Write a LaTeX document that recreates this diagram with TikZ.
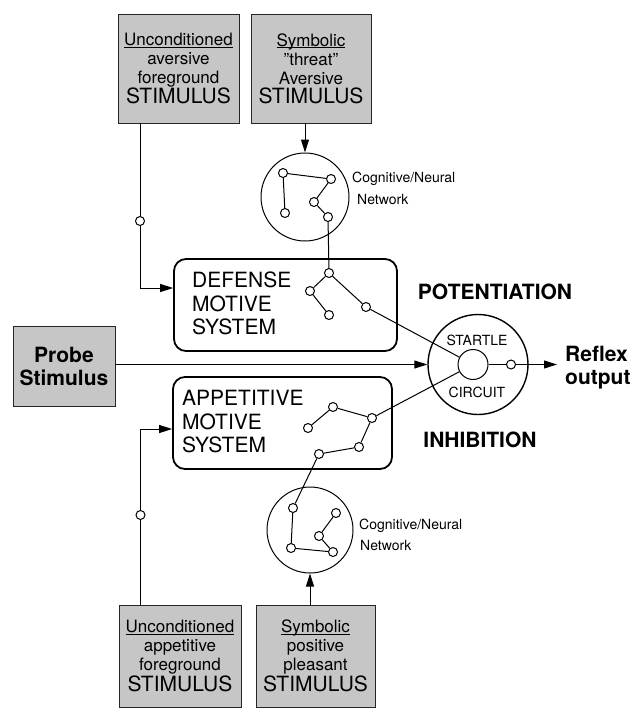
\documentclass[tikz,border=0pt]{standalone}
\usepackage{fontspec}
\setmainfont{TeX Gyre Heros}
\usetikzlibrary{arrows.meta, positioning}
\definecolor{stimgray}{HTML}{C6C6C6}
\newcommand{\stimhead}[1]{\setbox0\hbox{#1}\rlap{\rule[-2.2pt]{\wd0}{0.9pt}}\box0}
\tikzset{
    stimbox/.style={rectangle, draw=black!85, line width=0.9pt, fill=stimgray, align=center, inner sep=0pt, font=\fontsize{17}{19}\selectfont},
    motivebox/.style={rectangle, draw=black, line width=1.8pt, rounded corners=12pt},
    motivetext/.style={anchor=west, align=left, inner sep=0pt, font=\fontsize{21}{23.5}\selectfont},
    netcircle/.style={circle, draw=black, line width=1pt, inner sep=0pt},
    neuron/.style={circle, draw=black, line width=1pt, fill=white, minimum size=9pt, inner sep=0pt},
    netlabel/.style={anchor=west, inner sep=0pt, font=\fontsize{14}{16}\selectfont},
    circuitlabel/.style={inner sep=0pt, font=\fontsize{14}{16}\selectfont},
    effect/.style={inner sep=0pt, font=\bfseries\fontsize{21}{23}\selectfont},
    wire/.style={line width=1pt, draw=black},
    arrow/.style={wire, -{Triangle[length=13pt, width=8pt]}}
}
\begin{document}
\begin{tikzpicture}[x=1pt, y=-1pt]
    \useasboundingbox (0,0) rectangle (636,710);

    % stimulus boxes
    \node[stimbox, minimum width=121pt, minimum height=109pt] (aversive) at (178.5,68.5)
        {\stimhead{Unconditioned}\\aversive\\foreground\\{\fontsize{21}{19}\selectfont STIMULUS}};
    \node[stimbox, minimum width=120pt, minimum height=109pt] (threat) at (311,68.5)
        {\stimhead{Symbolic}\\"threat"\\Aversive\\{\fontsize{21}{19}\selectfont STIMULUS}};
    \node[stimbox, minimum width=122pt, minimum height=102pt] (appetstim) at (180,656)
        {\stimhead{Unconditioned}\\appetitive\\foreground\\{\fontsize{21}{19}\selectfont STIMULUS}};
    \node[stimbox, minimum width=119pt, minimum height=102pt] (pleasant) at (315.5,656)
        {\stimhead{Symbolic}\\positive\\pleasant\\{\fontsize{21}{19}\selectfont STIMULUS}};
    \node[stimbox, minimum width=102pt, minimum height=80pt, font=\bfseries\fontsize{21}{23}\selectfont] (probe) at (64,366) {Probe\\Stimulus};

    % motive systems
    \node[motivebox, minimum width=223pt, minimum height=92pt] (defense) at (285.5,305) {};
    \node[motivetext] (defensetext) at (192,303.5) {DEFENSE\\MOTIVE\\SYSTEM};
    \node[motivebox, minimum width=219pt, minimum height=92pt] (appetitive) at (282.5,423) {};
    \node[motivetext] (appetitivetext) at (182,422) {APPETITIVE\\MOTIVE\\SYSTEM};

    % startle circuit
    \node[netcircle, line width=1.4pt, minimum size=100pt] (startle) at (478,364.5) {};
    \node[neuron, minimum size=30pt] (core) at (473,364.5) {};
    \node[neuron] (outcell) at (511,364.5) {};
    \node[circuitlabel] (startletext) at (477,340) {STARTLE};
    \node[circuitlabel] (circuittext) at (477,392) {CIRCUIT};
    \node[effect, anchor=west, align=left] (reflex) at (565,368) {Reflex\\output};
    \node[effect] (potentiation) at (495,292) {POTENTIATION};
    \node[effect] (inhibition) at (480,440) {INHIBITION};

    % cognitive networks
    \node[netcircle, minimum size=88pt] (threatnet) at (305,197) {};
    \node[netlabel] (threatlabel) at (352,179) {Cognitive/Neural};
    \node[netlabel] (threatlabelb) at (357,199) {Network};
    \node[netcircle, minimum size=86pt] (pleasantnet) at (310,530) {};
    \node[netlabel] (pleasantlabel) at (359,526) {Cognitive/Neural};
    \node[netlabel] (pleasantlabelb) at (360,545) {Network};

    \foreach \n/\x/\y in {tn1/283/173, tn2/331/179, tn3/314/202, tn4/285/213, tn5/328/217,
                          dn1/329/273, dn2/310/291, dn3/329/315, dn4/366/307,
                          mn1/308/428, mn2/333/407, mn3/372/418, mn4/359/447, mn5/319/454,
                          pn1/293/508, pn2/336/513, pn3/319/536, pn4/291/548, pn5/333/552}
        \node[neuron] (\n) at (\x,\y) {};
    \foreach \s/\t in {tn1/tn2, tn1/tn4, tn2/tn3, tn3/tn5, tn5/dn1, dn1/dn2, dn2/dn3, dn1/dn4, dn4/core,
                       mn1/mn2, mn2/mn3, mn3/mn4, mn4/mn5, mn5/pn1, mn3/core,
                       pn1/pn4, pn4/pn5, pn5/pn3, pn3/pn2}
        \draw[wire] (\s) -- (\t);

    % connectors
    \node[neuron] (avcell) at (140,221) {};
    \draw[wire] (aversive.south -| avcell) -- (avcell);
    \draw[arrow] (avcell) |- ([yshift=17pt]defense.west);
    \node[neuron] (apcell) at (140.5,515) {};
    \draw[wire] (appetstim.north -| apcell) -- (apcell);
    \draw[arrow] (apcell) |- ([yshift=-6pt]appetitive.west);
    \draw[arrow] (threat.south -| threatnet.north) -- (threatnet.north);
    \draw[arrow] (pleasant.north -| pleasantnet.south) -- (pleasantnet.south);
    \draw[arrow] (probe.east |- startle) -- (startle.west);
    \draw[wire] (core) -- (outcell);
    \draw[arrow, shorten >=8pt] (outcell) -- (reflex.west |- outcell);
\end{tikzpicture}
\end{document}
